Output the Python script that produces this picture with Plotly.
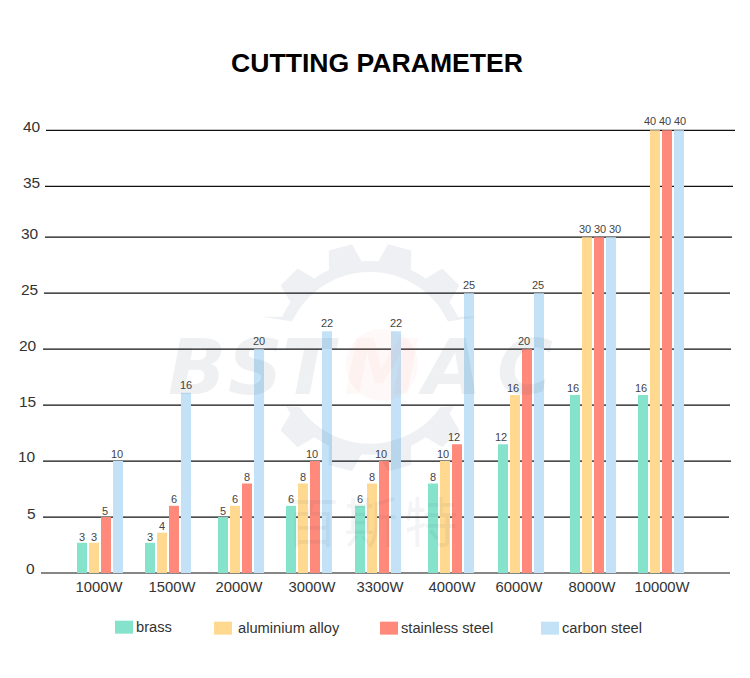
import math
import plotly.graph_objs as go

width = 750
height = 678

categories = ["1000W", "1500W", "2000W", "3000W", "3300W", "4000W", "6000W", "8000W", "10000W"]
series_names = ["brass", "aluminium alloy", "stainless steel", "carbon steel"]

brass = [2.7, 2.7, 5, 6, 6, 8, 11.5, 15.9, 15.9]
aluminium = [2.7, 3.6, 6, 8, 8, 10, 15.9, 30, 39.55]
stainless = [5, 6, 8, 10, 10, 11.5, 20, 30, 39.55]
carbon = [10, 16.1, 20, 21.6, 21.6, 25, 25, 30, 39.55]

brass_labels = ["3", "3", "5", "6", "6", "8", "12", "16", "16"]
aluminium_labels = ["3", "4", "6", "8", "8", "10", "16", "30", "40"]
stainless_labels = ["5", "6", "8", "10", "10", "12", "20", "30", "40"]
carbon_labels = ["10", "16", "20", "22", "22", "25", "25", "30", "40"]

y_labels = ["0", "5", "10", "15", "20", "25", "30", "35", "40"]
y_values = [0, 5, 10, 15, 20, 25, 30, 34.55, 39.55]

# layout stuff, all in page pixels
group_left = [77, 145, 218, 286, 355, 428, 498, 570, 638]
label_center = [99, 172, 239, 312, 380, 452, 519, 592, 662]
grid_left = [41, 43, 43, 43, 43, 44, 45, 45, 46]
grid_right = [730, 729, 731, 730, 731, 730, 732, 733, 735]
y_label_right = [34, 35, 35, 35, 36, 37, 38, 39, 40]
y_label_mid = [569, 514, 457, 402, 346, 290, 234, 183, 127]
legend_left = [115, 214, 380, 541]
legend_top = [621, 622, 622, 622]
legend_text_left = [134, 236, 399, 560]
colors = ["#85E3CC", "#FFD98F", "#FF8A7B", "#C3E2F7"]

# value labels don't sit exactly over their bars, wide ones are pushed apart
label_shift = [
    [0, 0, 0, 0, 0, 0, -2, -2, -2],
    [0, 0, 0, 0, 0, -2, -2, -2, -5],
    [-1, 0, 0, -3, -3, -3, -3, 1, -2],
    [-1, 0, 0, 0, 0, 0, -1, 4, 1],
]

watermark_letters = ["B", "S", "T", "M", "A", "C"]
watermark_mid = [197, 255, 310, 382, 450, 525]
watermark_cjk = ["百", "斯", "特"]
watermark_cjk_mid = [312, 371, 431]

plot_l = 40
plot_r = 736
plot_t = 100
plot_b = 573.3
px_per_unit = 11.2


def fx(px):
    return (px - plot_l) / (plot_r - plot_l)


def fy(py):
    return (plot_b - py) / (plot_b - plot_t)


def polar(cx, cy, r, a):
    return (cx + r * math.sin(math.radians(a)), cy - r * math.cos(math.radians(a)))


def gear_part(keep):
    # one half of the watermark gear, the text band cuts the ring in two
    cx, cy = 370, 358
    first = 240 if keep == "top" else 60
    outer = []
    for i in range(7):
        c = first + 15 + 30 * i
        outer.append(polar(cx, cy, 97, c - 15))
        for a, r in [(c - 10, 97), (c - 6, 115), (c + 6, 115), (c + 10, 97)]:
            outer.append(polar(cx, cy, r, a))
    inner = [polar(cx, cy, 86, first + a) for a in range(0, 215, 5)]
    if keep == "top":
        outer = [p for p in outer if p[1] < 328]
        inner = [p for p in inner if p[1] < 328]
    else:
        outer = [p for p in outer if p[1] > 402]
        inner = [p for p in inner if p[1] > 402]
    pts = outer + inner[::-1]
    return "M " + " L ".join("%.4f,%.4f" % (fx(x), fy(y)) for x, y in pts) + " Z"


series = [brass, aluminium, stainless, carbon]
series_labels = [brass_labels, aluminium_labels, stainless_labels, carbon_labels]

fig = go.Figure()
annotations = []
for i, name in enumerate(series_names):
    fig.add_trace(go.Bar(
        name=name,
        x=group_left,
        y=series[i],
        offset=12 * i,
        width=10,
        marker=dict(color=colors[i], line=dict(width=0)),
        showlegend=False,
    ))
    for left, val, txt, shift in zip(group_left, series[i], series_labels[i], label_shift[i]):
        annotations.append(dict(text=txt, x=left + 12 * i + 5, y=val, xref="x", yref="y",
                                xshift=shift, yshift=6 + 0.09 * val, showarrow=False,
                                xanchor="center", yanchor="middle",
                                font=dict(family="Liberation Sans", size=11, color="#444444")))

shapes = []
for v, l, r in zip(y_values, grid_left, grid_right):
    y = v * px_per_unit / (plot_b - plot_t)
    shapes.append(dict(type="line", xref="paper", yref="paper", layer="below",
                       x0=fx(l), x1=fx(r), y0=y, y1=y,
                       line=dict(color="#111111", width=1.2)))

# watermark
for part in ["top", "bottom"]:
    shapes.append(dict(type="path", xref="paper", yref="paper", layer="above", path=gear_part(part),
                       fillcolor="rgba(40,60,90,0.075)", line=dict(width=0)))
shapes.append(dict(type="circle", xref="paper", yref="paper", layer="above",
                   x0=fx(346), x1=fx(418), y0=fy(401), y1=fy(329),
                   fillcolor="rgba(230,80,60,0.035)", line=dict(width=0)))

# legend
for left, top, c in zip(legend_left, legend_top, colors):
    shapes.append(dict(type="rect", xref="paper", yref="paper", layer="above",
                       x0=fx(left), x1=fx(left + 18), y0=fy(top), y1=fy(top + 13),
                       fillcolor=c, line=dict(width=0)))

annotations.append(dict(text="<b>CUTTING PARAMETER</b>", xref="paper", yref="paper", x=fx(377), y=fy(63),
                        showarrow=False, xanchor="center", yanchor="middle",
                        font=dict(family="Liberation Sans", size=26.6, color="#000000")))
for letter, mid in zip(watermark_letters, watermark_mid):
    c = "rgba(230,80,60,0.04)" if letter == "M" else "rgba(40,60,90,0.08)"
    annotations.append(dict(text="<b><i>%s</i></b>" % letter, xref="paper", yref="paper",
                            x=fx(mid), y=fy(368), showarrow=False, xanchor="center", yanchor="middle",
                            font=dict(family="DejaVu Sans", size=76, color=c)))
for char, mid in zip(watermark_cjk, watermark_cjk_mid):
    annotations.append(dict(text=char, xref="paper", yref="paper",
                            x=fx(mid), y=fy(520), showarrow=False, xanchor="center", yanchor="middle",
                            font=dict(family="Noto Sans CJK SC", size=54, color="rgba(40,60,90,0.06)")))
for name, left, top in zip(series_names, legend_text_left, legend_top):
    annotations.append(dict(text=name, xref="paper", yref="paper", x=fx(left), y=fy(top + 6),
                            showarrow=False, xanchor="left", yanchor="middle",
                            font=dict(family="Liberation Sans", size=14.7, color="#333333")))
for txt, right, mid in zip(y_labels, y_label_right, y_label_mid):
    annotations.append(dict(text=txt, xref="paper", yref="paper", x=fx(right + 3), y=fy(mid),
                            showarrow=False, xanchor="right", yanchor="middle",
                            font=dict(family="Liberation Sans", size=15.5, color="#333333")))

fig.update_layout(
    width=width,
    height=height,
    margin=dict(l=plot_l, r=width - plot_r, t=plot_t, b=height - plot_b, pad=0),
    paper_bgcolor="white",
    plot_bgcolor="rgba(0,0,0,0)",
    barmode="overlay",
    shapes=shapes,
    annotations=annotations,
    xaxis=dict(
        range=[plot_l, plot_r],
        tickmode="array",
        tickvals=label_center,
        ticktext=categories,
        showgrid=False,
        zeroline=False,
        showline=False,
        ticks="",
        ticklabelstandoff=3,
        tickfont=dict(family="Liberation Sans", size=14.8, color="#333333"),
    ),
    yaxis=dict(
        range=[0, (plot_b - plot_t) / px_per_unit],
        showgrid=False,
        zeroline=False,
        showline=False,
        showticklabels=False,
        ticks="",
    ),
)

fig.write_html("out.html", config=dict(displayModeBar=False),
               post_script="document.body.style.margin='0';")
